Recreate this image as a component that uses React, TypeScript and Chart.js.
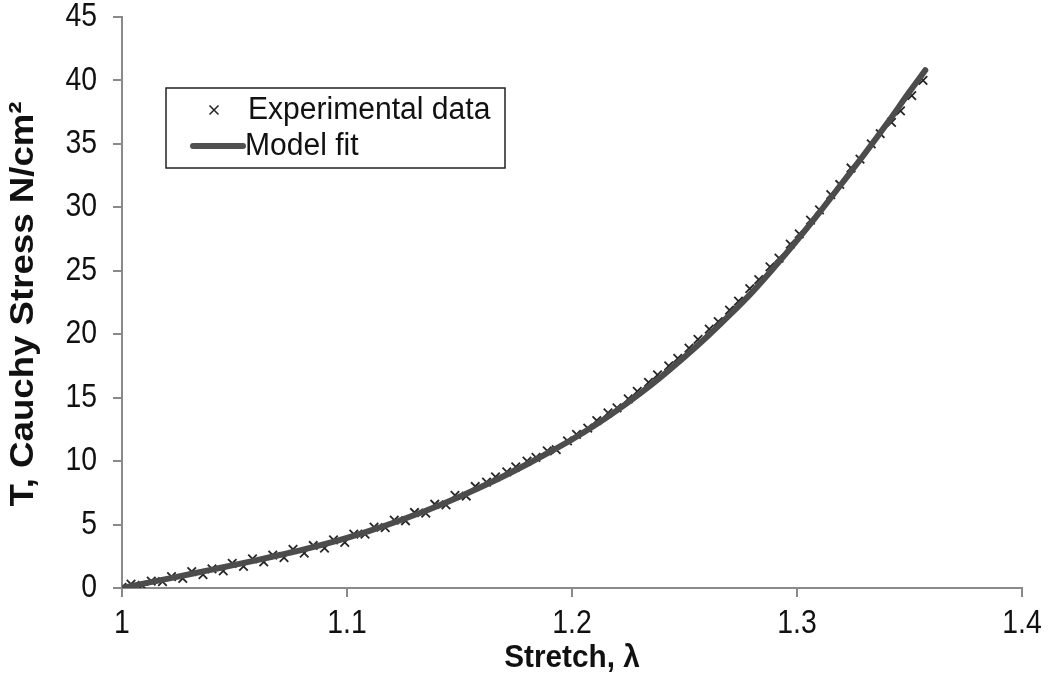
import React, { useEffect, useRef } from "react";
import { Chart, registerables } from "chart.js";

Chart.register(...registerables);

// Experimental data (stretch λ, Cauchy stress N/cm²)
const expStretch = [
  1.000, 1.004, 1.009, 1.013, 1.018, 1.022, 1.027, 1.031, 1.036, 1.040,
  1.045, 1.049, 1.054, 1.058, 1.063, 1.067, 1.072, 1.076, 1.081, 1.085,
  1.090, 1.094, 1.099, 1.103, 1.108, 1.112, 1.117, 1.121, 1.126, 1.130,
  1.135, 1.139, 1.144, 1.148, 1.153, 1.157, 1.162, 1.166, 1.171, 1.175,
  1.180, 1.184, 1.189, 1.193, 1.198, 1.202, 1.207, 1.211, 1.216, 1.220,
  1.225, 1.229, 1.234, 1.238, 1.243, 1.247, 1.252, 1.256, 1.261, 1.265,
  1.270, 1.274, 1.279, 1.283, 1.288, 1.292, 1.297, 1.301, 1.306, 1.310,
  1.315, 1.319, 1.324, 1.328, 1.333, 1.337, 1.342, 1.346, 1.351, 1.356,
];
const expStress = [
  0.05, 0.3, 0.2, 0.55, 0.5, 0.9, 0.75, 1.3, 1.05, 1.5,
  1.35, 1.95, 1.7, 2.3, 2.05, 2.6, 2.4, 3.05, 2.75, 3.35,
  3.15, 3.8, 3.6, 4.25, 4.25, 4.8, 4.75, 5.35, 5.3, 5.95,
  5.9, 6.6, 6.55, 7.3, 7.25, 8.0, 8.35, 8.75, 9.15, 9.55,
  10.0, 10.3, 10.8, 10.9, 11.6, 12.1, 12.6, 13.2, 13.8, 14.2,
  14.9, 15.5, 16.2, 16.8, 17.5, 18.1, 18.9, 19.6, 20.4, 21.0,
  21.9, 22.6, 23.6, 24.3, 25.3, 26.0, 27.1, 27.9, 29.0, 29.8,
  31.0, 31.8, 33.1, 33.8, 35.0, 35.8, 36.7, 37.6, 38.8, 40.0,
];

// Model fit curve
const fitStretch = [
  1.00, 1.01, 1.02, 1.03, 1.04, 1.05, 1.06, 1.07, 1.08, 1.09,
  1.10, 1.11, 1.12, 1.13, 1.14, 1.15, 1.16, 1.17, 1.18, 1.19,
  1.20, 1.21, 1.22, 1.23, 1.24, 1.25, 1.26, 1.27, 1.28, 1.29,
  1.30, 1.31, 1.32, 1.33, 1.34, 1.35, 1.357,
];
const fitStress = [
  0, 0.36, 0.72, 1.08, 1.45, 1.82, 2.2, 2.6, 3.0, 3.45,
  3.95, 4.5, 5.1, 5.75, 6.45, 7.2, 8.0, 8.85, 9.75, 10.7,
  11.7, 12.8, 14.0, 15.3, 16.7, 18.2, 19.8, 21.5, 23.3, 25.3,
  27.4, 29.6, 31.9, 34.2, 36.6, 39.1, 40.8,
];

const xTicks = [1, 1.1, 1.2, 1.3, 1.4];
const xTickLabels = ["1", "1.1", "1.2", "1.3", "1.4"];
const yTicks = [0, 5, 10, 15, 20, 25, 30, 35, 40, 45];
const yTickLabels = ["0", "5", "10", "15", "20", "25", "30", "35", "40", "45"];

const seriesNames = ["Experimental data", "Model fit"];
const xTitle = "Stretch, λ";
const yTitle = "T, Cauchy Stress N/cm²";

const FONT = "'Liberation Sans', Arial, sans-serif";

function drawText(
  ctx: CanvasRenderingContext2D,
  text: string,
  x: number,
  y: number,
  size: number,
  bold: boolean,
  sx: number,
  align: CanvasTextAlign,
  rotate = false
) {
  ctx.save();
  ctx.translate(x, y);
  if (rotate) ctx.rotate(-Math.PI / 2);
  ctx.scale(sx, 1);
  ctx.font = `${bold ? "bold " : ""}${size}px ${FONT}`;
  ctx.fillStyle = "#111";
  ctx.textAlign = align;
  ctx.textBaseline = "middle";
  ctx.fillText(text, 0, 0);
  ctx.restore();
}

const overlayPlugin = {
  id: "overlay",
  afterDraw(chart: any) {
    const ctx: CanvasRenderingContext2D = chart.ctx;
    const xs = chart.scales.x;
    const ys = chart.scales.y;

    // tick labels
    yTicks.forEach((v, i) => {
      drawText(ctx, yTickLabels[i], 97, ys.getPixelForValue(v), 33, false, 0.86, "right");
    });
    xTicks.forEach((v, i) => {
      drawText(ctx, xTickLabels[i], xs.getPixelForValue(v), 624, 33, false, 0.86, "center");
    });

    // axis titles
    drawText(ctx, xTitle, (chart.chartArea.left + chart.chartArea.right) / 2, 658, 32, true, 0.93, "center");
    drawText(ctx, yTitle, 24, 304, 33, true, 1.11, "center", true);

    // legend
    ctx.save();
    ctx.strokeStyle = "#222";
    ctx.lineWidth = 1.5;
    ctx.strokeRect(166, 88, 339, 80);
    const mx = 214, my = 110, r = 4.5;
    ctx.lineWidth = 1.5;
    ctx.beginPath();
    ctx.moveTo(mx - r, my - r);
    ctx.lineTo(mx + r, my + r);
    ctx.moveTo(mx + r, my - r);
    ctx.lineTo(mx - r, my + r);
    ctx.stroke();
    ctx.strokeStyle = "#505050";
    ctx.lineWidth = 6;
    ctx.lineCap = "round";
    ctx.beginPath();
    ctx.moveTo(193, 146);
    ctx.lineTo(243, 146);
    ctx.stroke();
    ctx.restore();
    drawText(ctx, seriesNames[0], 248, 110, 31, false, 0.97, "left");
    drawText(ctx, seriesNames[1], 245, 146, 31, false, 0.97, "left");
  },
};

export default function App() {
  const ref = useRef<HTMLCanvasElement | null>(null);

  useEffect(() => {
    document.body.style.margin = "0";
    const canvas = ref.current;
    if (!canvas) return;
    const expData = expStretch.map((x, i) => ({ x, y: expStress[i] }));
    const fitData = fitStretch.map((x, i) => ({ x, y: fitStress[i] }));

    const chart = new Chart(canvas, {
      type: "scatter",
      data: {
        datasets: [
          {
            label: seriesNames[1],
            data: fitData,
            showLine: true,
            borderColor: "#4c4c4c",
            borderWidth: 6,
            pointRadius: 0,
            cubicInterpolationMode: "monotone",
            borderCapStyle: "round",
            order: 0,
          },
          {
            label: seriesNames[0],
            data: expData,
            showLine: false,
            pointStyle: "crossRot",
            pointRadius: 6,
            pointBorderWidth: 1.8,
            pointBorderColor: "#262626",
            pointBackgroundColor: "#262626",
            order: 1,
          },
        ],
      },
      options: {
        responsive: false,
        animation: false,
        layout: { padding: { left: 0, top: 17, right: 28, bottom: 0 } },
        plugins: {
          legend: { display: false },
          tooltip: { enabled: false },
        },
        scales: {
          x: {
            type: "linear",
            min: 1,
            max: 1.4,
            afterBuildTicks: (scale: any) => {
              scale.ticks = xTicks.map((v) => ({ value: v }));
            },
            afterFit: (scale: any) => {
              scale.height = 93;
            },
            ticks: { display: false },
            grid: {
              drawOnChartArea: false,
              drawTicks: true,
              tickLength: 9,
              color: "#8a8a8a",
              lineWidth: 2,
            },
            border: { display: true, color: "#8a8a8a", width: 2 },
          },
          y: {
            type: "linear",
            min: 0,
            max: 45,
            afterBuildTicks: (scale: any) => {
              scale.ticks = yTicks.map((v) => ({ value: v }));
            },
            afterFit: (scale: any) => {
              scale.width = 122;
            },
            ticks: { display: false },
            grid: {
              drawOnChartArea: false,
              drawTicks: true,
              tickLength: 9,
              color: "#8a8a8a",
              lineWidth: 2,
            },
            border: { display: true, color: "#8a8a8a", width: 2 },
          },
        },
      },
      plugins: [overlayPlugin],
    } as any);

    return () => chart.destroy();
  }, []);

  return <canvas ref={ref} width={1050} height={681} />;
}
